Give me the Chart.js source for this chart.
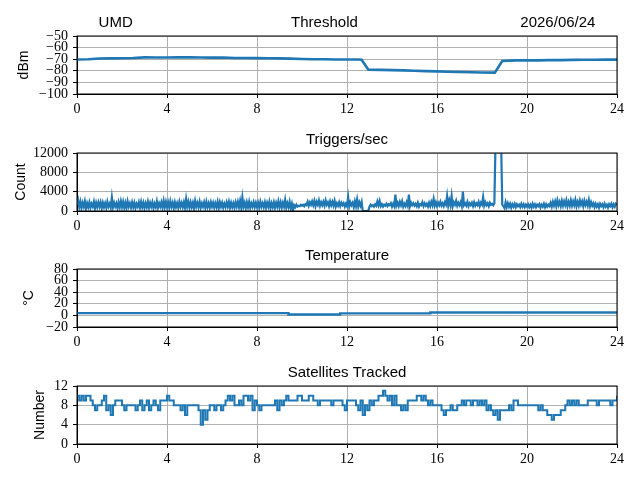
<!DOCTYPE html>
<html>
<head>
<meta charset="utf-8">
<script src="https://cdn.jsdelivr.net/npm/chart.js@4.4.1/dist/chart.umd.min.js"></script>
<style>
  body { margin: 0; background: #fff; }
  #page { position: relative; width: 640px; height: 480px; }
  .panel { position: absolute; left: 0; width: 640px; height: 118px; }
</style>
</head>
<body>
<div id="page">
  <div class="panel" style="top:6px"><canvas id="thresholdChart"></canvas></div>
  <div class="panel" style="top:123px"><canvas id="triggersChart"></canvas></div>
  <div class="panel" style="top:239px"><canvas id="tempChart"></canvas></div>
  <div class="panel" style="top:356px"><canvas id="satChart"></canvas></div>
</div>
<script>
const stationName = "UMD";
const dateLabel = "2026/06/24";
const hourTicks = [0, 4, 8, 12, 16, 20, 24];

// threshold (dBm)
const thrHours = [0, 0.5, 1, 1.5, 2, 2.5, 3, 3.5, 4, 4.5, 5, 5.5, 6, 6.5, 7, 7.5, 8, 8.5, 9, 9.5,
  10, 10.5, 11, 11.5, 12, 12.5, 12.65, 12.95, 13.5, 14, 14.5, 15, 15.5, 16, 16.5, 17, 17.5, 18,
  18.57, 18.9, 19.5, 20, 20.5, 21, 21.5, 22, 22.5, 23, 23.5, 24];
const thrDbm = [-70.2, -70, -69.4, -69.3, -69.2, -69, -68.4, -68.5, -68.5, -68.3, -68.4, -68.5,
  -68.6, -68.6, -69, -69, -69.1, -69.2, -69.3, -69.5, -69.8, -70, -70.1, -70.2, -70.2, -70.2,
  -70.4, -79, -79.2, -79.4, -79.6, -80, -80.3, -80.5, -80.8, -81, -81.2, -81.5, -81.6, -71.5,
  -71, -71, -71, -70.8, -70.8, -70.6, -70.5, -70.5, -70.4, -70.4];

// triggers per second, one sample every 0.05 h (one row per hour)
const trigStep = 0.05;
const trigCounts = [
  1200, 2200, 800, 1900, 600, 1700, 900, 2000, 500, 1600, 800, 1800, 700, 1500, 900, 1900, 600, 1700, 800, 1800,
  900, 1800, 600, 1700, 800, 1600, 700, 1900, 900, 1500, 700, 2800, 800, 1700, 900, 1600, 600, 1800, 800, 2000,
  800, 1900, 700, 1700, 600, 2000, 900, 1600, 700, 1800, 800, 1700, 600, 1500, 900, 1800, 700, 1900, 800, 1700,
  600, 1600, 800, 1900, 700, 1700, 900, 1800, 600, 1500, 800, 2000, 700, 1600, 900, 1800, 700, 2100, 800, 1900,
  800, 1800, 700, 2000, 900, 1700, 600, 1800, 800, 1600, 700, 1900, 900, 1700, 800, 1800, 700, 2500, 900, 1900,
  700, 1800, 800, 1700, 600, 2100, 900, 1700, 800, 1900, 700, 1600, 900, 1800, 700, 1900, 800, 1600, 700, 1800,
  900, 1700, 700, 1600, 800, 1900, 600, 1800, 900, 1700, 700, 1500, 800, 1800, 900, 1900, 700, 1700, 800, 1600,
  700, 1800, 900, 1900, 800, 2100, 700, 2800, 900, 1700, 600, 1800, 800, 1900, 700, 1600, 900, 1800, 800, 1700,
  800, 1700, 700, 1900, 900, 1600, 800, 1800, 700, 1700, 900, 1900, 600, 1600, 800, 1800, 700, 1700, 900, 2000,
  800, 1800, 700, 1700, 900, 2300, 700, 1600, 800, 1900, 600, 1500, 100, 1200, 800, 1300, 900, 1100, 1000, 1300,
  1100, 1300, 1000, 1400, 1200, 1900, 1100, 1800, 1300, 2000, 1200, 2100, 1000, 1900, 1300, 2200, 1100, 1800, 1200, 1900,
  1100, 2200, 1300, 1800, 1000, 2000, 1200, 1900, 1100, 2100, 900, 1600, 1100, 1800, 1000, 1700, 1200, 1600, 900, 1500,
  1000, 2900, 900, 1800, 1200, 1700, 800, 2000, 1000, 2400, 900, 1800, 1100, 1900, 0, 0, 0, 0, 0, 100,
  900, 1300, 1000, 1200, 900, 1400, 1100, 2000, 1200, 2100, 1000, 1400, 900, 1300, 1100, 1500, 1000, 1400, 1200, 1600,
  900, 1500, 1000, 3400, 1100, 1700, 1000, 1900, 1200, 2000, 900, 1500, 1000, 1800, 1100, 3400, 1000, 1700, 1200, 1600,
  1100, 1500, 1000, 1700, 900, 1400, 1200, 1800, 1000, 1600, 1100, 1500, 900, 1700, 1000, 1900, 1200, 2500, 1100, 1800,
  1000, 1700, 1200, 1900, 1100, 1600, 1000, 1800, 1300, 3100, 1100, 2200, 1200, 3100, 1000, 1800, 1300, 2100, 1100, 1700,
  1200, 1800, 1000, 4000, 1200, 1600, 1100, 1900, 1000, 1600, 1200, 1700, 1000, 1800, 1100, 1600, 1200, 1900, 1000, 1700,
  1300, 2900, 1100, 1800, 1200, 1600, 1000, 1700, 1300, 1500, 1200, 1600, 14000, 14000, 14000, 14000, 14000, 14000, 1300, 1000,
  600, 1800, 800, 1600, 900, 1500, 700, 1400, 900, 1500, 800, 1400, 1000, 1300, 800, 1500, 900, 1400, 800, 1300,
  900, 1400, 800, 1300, 700, 1500, 900, 1400, 800, 1300, 1000, 1400, 700, 1300, 900, 1500, 800, 1400, 900, 1300,
  1000, 1700, 900, 1900, 1100, 2000, 1000, 2200, 1200, 1900, 1000, 2100, 1100, 2000, 1200, 2200, 1000, 1900, 1100, 2200,
  1100, 2000, 1200, 2300, 1000, 1900, 1100, 2200, 1300, 2000, 1000, 2100, 1200, 1900, 1100, 2300, 1000, 1800, 1100, 1600,
  800, 1500, 900, 1400, 700, 1500, 1000, 1400, 800, 1500, 900, 1300, 700, 1400, 1000, 1500, 800, 1400, 900, 1500,
  1200
];

// temperature (°C), value holds until the next change
const tempHours = [0, 9.4, 11.7, 15.7, 24];
const tempValues = [4, 1.5, 3.5, 5, 5];

// satellites tracked, one sample every 0.1 h (one row per hour)
const satStep = 0.1;
const satCounts = [
  10, 9, 10, 9, 10, 10, 9, 8, 7, 8,
  8, 9, 10, 7, 8, 6, 8, 9, 9, 9,
  8, 7, 8, 8, 8, 8, 7, 8, 9, 7,
  8, 9, 7, 8, 9, 8, 7, 9, 9, 9,
  10, 9, 9, 8, 8, 8, 7, 8, 6, 8,
  8, 8, 8, 8, 7, 4, 7, 5, 7, 8,
  8, 7, 8, 8, 7, 8, 9, 10, 9, 10,
  8, 8, 9, 8, 10, 10, 9, 10, 7, 9,
  8, 7, 8, 8, 8, 8, 8, 8, 9, 7,
  9, 8, 9, 10, 9, 9, 9, 9, 10, 10,
  9, 9, 9, 10, 10, 9, 9, 8, 9, 9,
  9, 9, 9, 8, 9, 9, 9, 9, 8, 7,
  9, 9, 9, 9, 8, 7, 9, 6, 8, 7,
  9, 8, 9, 9, 10, 10, 11, 10, 9, 10,
  8, 10, 8, 8, 7, 8, 7, 9, 9, 9,
  9, 10, 10, 9, 10, 9, 8, 9, 8, 8,
  8, 8, 7, 6, 7, 7, 8, 7, 7, 8,
  8, 9, 8, 9, 9, 8, 9, 9, 8, 9,
  8, 9, 7, 8, 7, 6, 7, 5, 7, 7,
  7, 7, 8, 7, 9, 9, 8, 8, 8, 8,
  8, 8, 8, 8, 8, 7, 8, 7, 7, 6,
  6, 5, 6, 6, 6, 7, 7, 8, 9, 8,
  9, 8, 9, 8, 8, 8, 8, 9, 9, 9,
  9, 8, 9, 9, 9, 9, 9, 8, 9, 9,
  10
];

const lineBlue = "#1f77b4";
const serif = "'Liberation Serif', 'DejaVu Serif', serif";
const sans = "'Liberation Sans', 'DejaVu Sans', sans-serif";

function pairs(xs, ys) {
  return ys.map((y, i) => ({ x: xs[i], y: y }));
}

function sampled(step, ys) {
  return ys.map((y, i) => ({ x: Math.round(i * step * 1000) / 1000, y: y }));
}

function minusLabel(v) {
  return v < 0 ? "\u2212" + Math.abs(v) : String(v);
}

// black box round the plot area, like the axes spines
const framePlugin = {
  id: "frame",
  afterDraw(chart) {
    const a = chart.chartArea;
    const ctx = chart.ctx;
    ctx.save();
    ctx.strokeStyle = "#000";
    ctx.lineWidth = 1;
    ctx.strokeRect(a.left, a.top, a.right - a.left, a.bottom - a.top);
    ctx.restore();
  }
};

function makeChart(id, points, opts) {
  return new Chart(document.getElementById(id), {
    type: "line",
    data: {
      datasets: [{
        data: points,
        borderColor: lineBlue,
        borderWidth: opts.width || 1.8,
        pointRadius: 0,
        fill: false,
        tension: 0,
        stepped: opts.stepped || false
      }]
    },
    options: {
      responsive: true,
      maintainAspectRatio: false,
      animation: false,
      events: [],
      layout: { padding: { top: 8, left: 0, right: 23, bottom: 0 } },
      plugins: {
        legend: { display: false },
        tooltip: { enabled: false },
        title: {
          display: true,
          fullSize: false,
          text: opts.title,
          color: "#000",
          font: { family: sans, size: 15, weight: "normal" },
          padding: { top: 0, bottom: 4 }
        }
      },
      scales: {
        x: {
          type: "linear",
          min: 0,
          max: 24,
          afterBuildTicks: s => { s.ticks = hourTicks.map(v => ({ value: v })); },
          afterFit: s => { s.height = 30; },
          ticks: { color: "#000", font: { family: serif, size: 14 }, padding: 3, autoSkip: false, maxRotation: 0 },
          grid: { color: "#b0b0b0", lineWidth: 1, tickColor: "#000", tickLength: 4 },
          border: { display: true, color: "#000", width: 1 }
        },
        y: {
          min: opts.yTicks[0],
          max: opts.yTicks[opts.yTicks.length - 1],
          afterBuildTicks: s => { s.ticks = opts.yTicks.map(v => ({ value: v })); },
          afterFit: s => { s.width = 77; },
          ticks: {
            color: "#000", font: { family: serif, size: 14, lineHeight: 1 },
            padding: 5, autoSkip: false, callback: minusLabel
          },
          grid: { color: "#b0b0b0", lineWidth: 1, tickColor: "#000", tickLength: 4 },
          border: { display: true, color: "#000", width: 1 },
          title: {
            display: true,
            text: opts.yLabel,
            color: "#000",
            font: { family: sans, size: 14 },
            padding: { top: opts.yLabelPad, bottom: 0 }
          }
        }
      }
    },
    plugins: [framePlugin]
  });
}

// the first title carries station and date, spaced out like the original
const topTitle = stationName + " ".repeat(38) + "Threshold" + " ".repeat(39) + dateLabel;

makeChart("thresholdChart", pairs(thrHours, thrDbm), {
  title: topTitle, yLabel: "dBm", yLabelPad: 15.6, width: 2.6,
  yTicks: [-100, -90, -80, -70, -60, -50]
});
makeChart("triggersChart", sampled(trigStep, trigCounts), {
  title: "Triggers/sec", yLabel: "Count", yLabelPad: 12.6, width: 2.2,
  yTicks: [0, 4000, 8000, 12000]
});
makeChart("tempChart", pairs(tempHours, tempValues), {
  title: "Temperature", yLabel: "\u00b0C", yLabelPad: 20.6, width: 2.4,
  yTicks: [-20, 0, 20, 40, 60, 80], stepped: "before"
});
makeChart("satChart", sampled(satStep, satCounts), {
  title: "Satellites Tracked", yLabel: "Number", yLabelPad: 31.6, width: 2,
  yTicks: [0, 4, 8, 12], stepped: "before"
});
</script>
</body>
</html>
